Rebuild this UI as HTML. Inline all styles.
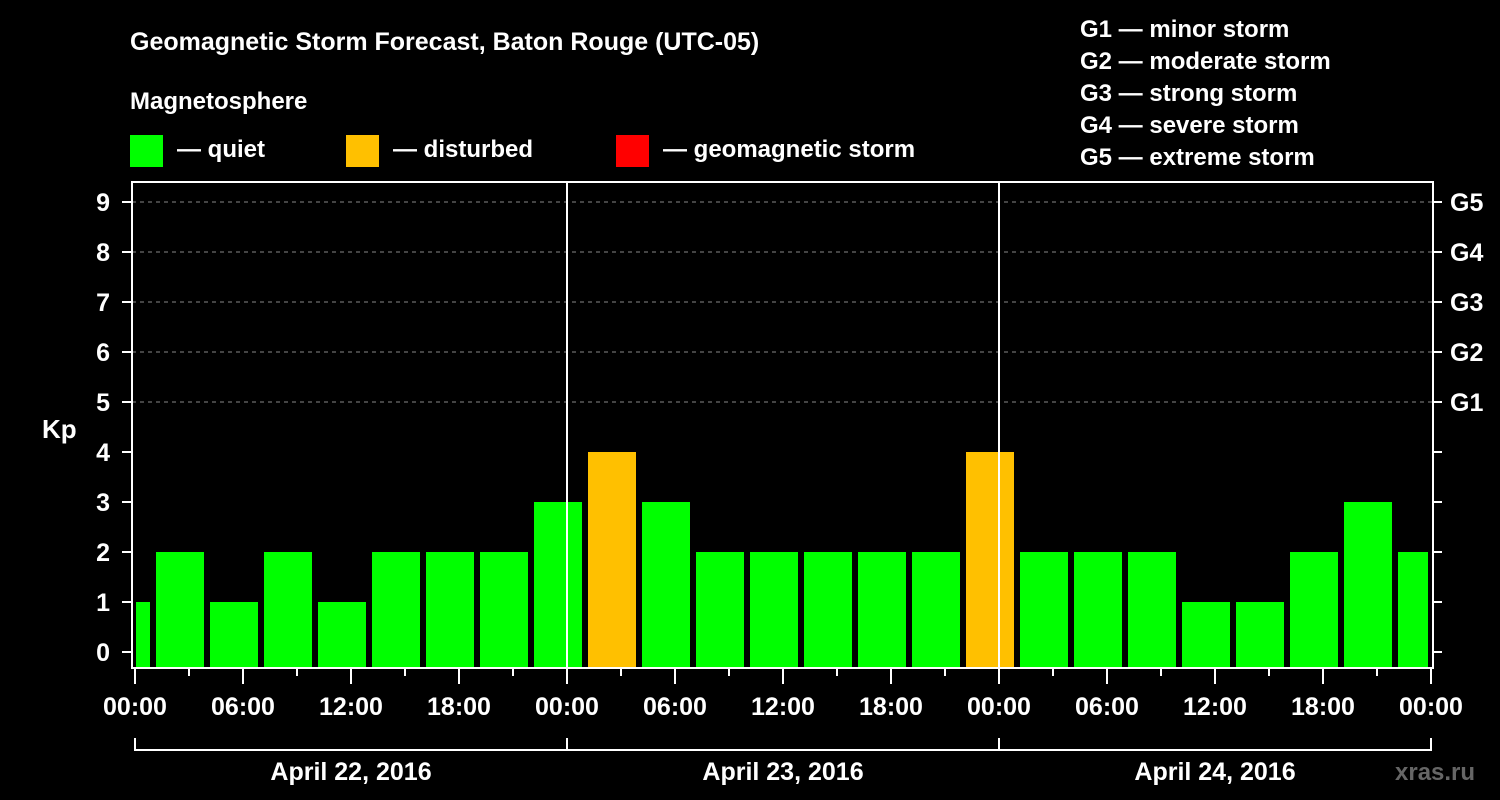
<!DOCTYPE html>
<html><head><meta charset="utf-8"><style>
html,body{margin:0;padding:0;background:#000;}
svg{display:block;font-family:"Liberation Sans",Arial,sans-serif;font-weight:bold;}
</style></head><body>
<svg id="c" width="1500" height="800" viewBox="0 0 1500 800">
<text x="130" y="50" fill="#fff" font-size="25">Geomagnetic Storm Forecast, Baton Rouge (UTC-05)</text>
<text x="130" y="109" fill="#fff" font-size="24">Magnetosphere</text>
<g><rect x="130" y="135" width="33" height="32" fill="#00ff00"/><text x="177" y="157" fill="#fff" font-size="24">— quiet</text></g>
<g><rect x="346" y="135" width="33" height="32" fill="#ffc000"/><text x="393" y="157" fill="#fff" font-size="24">— disturbed</text></g>
<g><rect x="616" y="135" width="33" height="32" fill="#ff0000"/><text x="663" y="157" fill="#fff" font-size="24">— geomagnetic storm</text></g>
<g fill="#fff" font-size="24">
<text x="1080" y="37">G1 — minor storm</text>
<text x="1080" y="69">G2 — moderate storm</text>
<text x="1080" y="101">G3 — strong storm</text>
<text x="1080" y="133">G4 — severe storm</text>
<text x="1080" y="165">G5 — extreme storm</text>
</g>
<text x="42" y="438" fill="#fff" font-size="26">Kp</text>
<text x="1395" y="780" fill="#666" font-size="24">xras.ru</text>
<g id="plot"></g>
</svg>
<script>
const kpValues=[1,2,1,2,1,2,2,2,3,4,3,2,2,2,2,2,4,2,2,2,1,1,2,3,2];
const yTicks=[0,1,2,3,4,5,6,7,8,9];
const gLabels=["G1","G2","G3","G4","G5"];
const xLabels=["00:00","06:00","12:00","18:00","00:00","06:00","12:00","18:00","00:00","06:00","12:00","18:00","00:00"];
const dayLabels=["April 22, 2016","April 23, 2016","April 24, 2016"];
const NS="http://www.w3.org/2000/svg";
const g=document.getElementById('plot');
const X0=135,PXH=18,L=132,R=1433,T=182,B=668;
const xs=h=>X0+h*PXH;
const ys=k=>652-50*k;
function mk(t,a,p){const e=document.createElementNS(NS,t);for(const k in a)e.setAttribute(k,a[k]);(p||g).appendChild(e);return e;}
// grid
for(let k=5;k<=9;k++){const e=mk('line',{x1:L,x2:R,y1:ys(k),y2:ys(k),stroke:'#888','stroke-dasharray':'4 4','stroke-width':1});

}
// bars
kpValues.forEach((v,i)=>{const c=-0.5+3*i;let x1=xs(c)-24,x2=xs(c)+24;x1=Math.max(x1,136);x2=Math.min(x2,1428);
const e=mk('rect',{x:x1,y:ys(v),width:x2-x1,height:B-ys(v),fill:v>=5?'#ff0000':(v>=4?'#ffc000':'#00ff00')});

});
// day separators
[24,48].forEach(h=>{const e=mk('line',{x1:xs(h),x2:xs(h),y1:T,y2:B,stroke:'#fff','stroke-width':2});

});
// frame
const f=mk('rect',{x:L,y:T,width:R-L,height:B-T,fill:'none',stroke:'#fff','stroke-width':2});


// y ticks
yTicks.forEach(k=>{mk('line',{x1:122,x2:L,y1:ys(k),y2:ys(k),stroke:'#fff','stroke-width':2});
mk('line',{x1:R,x2:1442,y1:ys(k),y2:ys(k),stroke:'#fff','stroke-width':2});
const t=mk('text',{x:110,y:ys(k)+9,fill:'#fff','font-size':25,'text-anchor':'end'});t.textContent=k;

});
gLabels.forEach((s,i)=>{const t=mk('text',{x:1450,y:ys(5+i)+9,fill:'#fff','font-size':25});t.textContent=s;

});
// x ticks
for(let h=0;h<=72;h+=3){mk('line',{x1:xs(h),x2:xs(h),y1:B,y2:B+(h%6==0?16:8),stroke:'#fff','stroke-width':2});}
xLabels.forEach((s,i)=>{const t=mk('text',{x:xs(i*6),y:715,fill:'#fff','font-size':25,'text-anchor':'middle'});t.textContent=s;

});
// day bracket
mk('line',{x1:xs(0),x2:xs(72),y1:750,y2:750,stroke:'#fff','stroke-width':2});
[0,24,48,72].forEach(h=>mk('line',{x1:xs(h),x2:xs(h),y1:738,y2:751,stroke:'#fff','stroke-width':2}));
dayLabels.forEach((s,i)=>{const t=mk('text',{x:xs(12+24*i),y:780,fill:'#fff','font-size':25,'text-anchor':'middle'});t.textContent=s;

});
</script>
</body></html>
